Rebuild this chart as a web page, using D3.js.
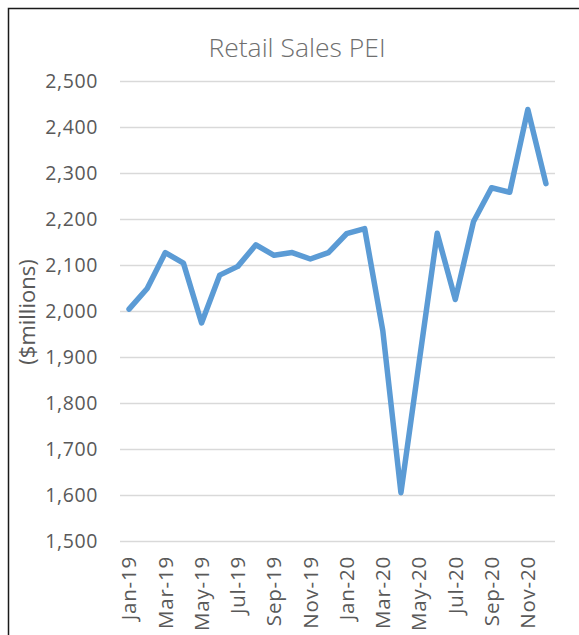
<!DOCTYPE html>
<html>
<head>
<meta charset="utf-8">
<script src="https://cdn.jsdelivr.net/npm/d3@7"></script>
<style>
  body { margin: 0; background: #fff; }
  svg { display: block; }
</style>
</head>
<body>
<svg id="chart"></svg>
<script>
'use strict'

const months = ['Jan-19', 'Feb-19', 'Mar-19', 'Apr-19', 'May-19', 'Jun-19', 'Jul-19', 'Aug-19',
  'Sep-19', 'Oct-19', 'Nov-19', 'Dec-19', 'Jan-20', 'Feb-20', 'Mar-20', 'Apr-20',
  'May-20', 'Jun-20', 'Jul-20', 'Aug-20', 'Sep-20', 'Oct-20', 'Nov-20', 'Dec-20']
const sales = [2004, 2049, 2127, 2104, 1974, 2078, 2097, 2144, 2121, 2127, 2113, 2127,
  2168, 2179, 1957, 1605, 1888, 2169, 2025, 2194, 2268, 2258, 2438, 2277]
const yTicks = [1500, 1600, 1700, 1800, 1900, 2000, 2100, 2200, 2300, 2400, 2500]

const width = 579
const height = 635
const margin = { top: 81, right: 24, bottom: 94, left: 120 }
const font = '"Open Sans", sans-serif'
const textColor = '#595959'

const svg = d3.select('#chart')
  .attr('width', width)
  .attr('height', height)
  .attr('font-family', font)

// chart area border (runs off the right and bottom edges)
svg.append('rect')
  .attr('x', 8.5)
  .attr('y', 8.5)
  .attr('width', 700)
  .attr('height', 700)
  .attr('fill', '#fff')
  .attr('stroke', '#1a1a1a')
  .attr('stroke-width', 1.5)

const x = d3.scaleBand()
  .domain(months)
  .range([margin.left, width - margin.right])

const y = d3.scaleLinear()
  .domain([1500, 2500])
  .range([height - margin.bottom, margin.top])

// gridlines + y labels
const yAxis = d3.axisLeft(y)
  .tickValues(yTicks)
  .tickSize(-(width - margin.left - margin.right))
  .tickPadding(22)
  .tickFormat(d3.format(','))

svg.append('g')
  .attr('transform', `translate(${margin.left},0)`)
  .call(yAxis)
  .call(g => g.select('.domain').remove())
  .call(g => g.selectAll('line').attr('stroke', '#d9d9d9').attr('stroke-width', 1.3))
  .call(g => g.selectAll('text')
    .attr('fill', textColor)
    .attr('font-family', font)
    .attr('font-size', 19.5)
    .attr('letter-spacing', 0.6))

// x labels, every other month
const xAxis = d3.axisBottom(x)
  .tickValues(months.filter((d, i) => i % 2 === 0))
  .tickSize(0)
  .tickPadding(0)

svg.append('g')
  .attr('transform', `translate(0,${height - margin.bottom})`)
  .call(xAxis)
  .call(g => g.select('.domain').remove())
  .call(g => g.selectAll('text')
    .attr('fill', textColor)
    .attr('font-family', font)
    .attr('font-size', 20.5)
    .attr('letter-spacing', 0.8)
    .attr('text-anchor', 'end')
    .attr('dy', '0.35em')
    .attr('transform', 'translate(0,15) rotate(-90)')
    .attr('x', 0)
    .attr('y', 0))

const line = d3.line()
  .x((d, i) => x(months[i]) + x.bandwidth() / 2)
  .y(d => y(d))

svg.append('path')
  .datum(sales)
  .attr('d', line)
  .attr('fill', 'none')
  .attr('stroke', '#5b9bd5')
  .attr('stroke-width', 5.5)
  .attr('stroke-linejoin', 'round')
  .attr('stroke-linecap', 'round')

svg.append('text')
  .attr('x', 297)
  .attr('y', 57)
  .attr('text-anchor', 'middle')
  .attr('fill', '#6f6f6f')
  .attr('font-size', 26.5)
  .attr('font-weight', 300)
  .text('Retail Sales PEI')

svg.append('text')
  .attr('transform', 'translate(35,312) rotate(-90)')
  .attr('text-anchor', 'middle')
  .attr('fill', textColor)
  .attr('font-size', 22)
  .text('($millions)')
</script>
</body>
</html>
